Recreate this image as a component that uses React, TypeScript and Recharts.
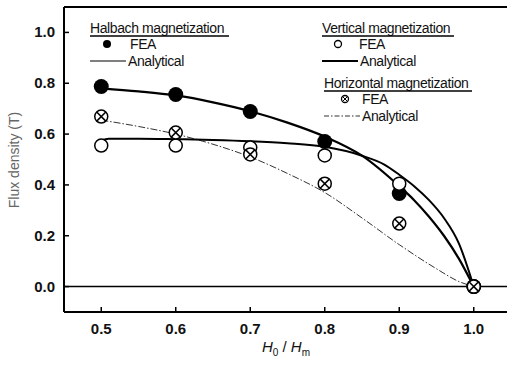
import React from "react";
import { ComposedChart, Line, Scatter, XAxis, YAxis, ReferenceLine } from "recharts";

// FEA points
const feaX = [0.5, 0.6, 0.7, 0.8, 0.9, 1.0];
const halbachFea = [0.787, 0.756, 0.689, 0.571, 0.366, 0.0];
const verticalFea = [0.555, 0.555, 0.547, 0.516, 0.405, 0.0];
const horizontalFea = [0.669, 0.606, 0.52, 0.405, 0.248, 0.0];

// analytical curves
const halbachX = [0.5, 0.55, 0.6, 0.65, 0.7, 0.75, 0.8, 0.85, 0.9, 0.92, 0.94, 0.96, 0.98, 1.0];
const halbachAn = [0.78, 0.768, 0.752, 0.725, 0.69, 0.645, 0.59, 0.515, 0.395, 0.34, 0.275, 0.2, 0.11, 0.0];
const verticalX = [0.5, 0.51, 0.55, 0.6, 0.65, 0.7, 0.75, 0.8, 0.85, 0.88, 0.9, 0.92, 0.94, 0.96, 0.98, 1.0];
const verticalAn = [0.575, 0.582, 0.582, 0.58, 0.577, 0.572, 0.564, 0.55, 0.515, 0.48, 0.44, 0.395, 0.34, 0.27, 0.17, 0.0];
const horizontalX = [0.5, 0.55, 0.6, 0.65, 0.7, 0.75, 0.8, 0.85, 0.9, 0.95, 0.98, 1.0];
const horizontalAn = [0.655, 0.63, 0.6, 0.56, 0.51, 0.445, 0.37, 0.27, 0.165, 0.07, 0.02, 0.0];

const xTicks = [0.5, 0.6, 0.7, 0.8, 0.9, 1.0];
const yTicks = [0.0, 0.2, 0.4, 0.6, 0.8, 1.0];

const pts = (xs: number[], ys: number[]) => xs.map((x, i) => ({ x, y: ys[i] }));

const FONT = "'Liberation Sans', Arial, sans-serif";

const FilledDot = (p: any) => <circle cx={p.cx} cy={p.cy} r={7.5} fill="#000" />;
const OpenDot = (p: any) => <circle cx={p.cx} cy={p.cy} r={6.5} fill="#fff" stroke="#000" strokeWidth={1.5} />;
const CrossDot = (p: any) => {
  const r = 6.5;
  const d = r * 0.7;
  return (
    <g>
      <circle cx={p.cx} cy={p.cy} r={r} fill="#fff" stroke="#000" strokeWidth={1.5} />
      <line x1={p.cx - d} y1={p.cy - d} x2={p.cx + d} y2={p.cy + d} stroke="#000" strokeWidth={1.5} />
      <line x1={p.cx - d} y1={p.cy + d} x2={p.cx + d} y2={p.cy - d} stroke="#000" strokeWidth={1.5} />
    </g>
  );
};

const XTick = (p: any) => (
  <g>
    <line x1={p.x} y1={p.y} x2={p.x} y2={p.y - 5} stroke="#000" strokeWidth={1.5} />
    <text x={p.x} y={p.y + 22} textAnchor="middle" fontFamily={FONT} fontSize={15} fontWeight="bold" fill="#111">
      {Number(p.payload.value).toFixed(1)}
    </text>
  </g>
);

const YTick = (p: any) => (
  <g>
    <line x1={p.x} y1={p.y} x2={p.x + 5} y2={p.y} stroke="#000" strokeWidth={1.5} />
    <text x={p.x - 9} y={p.y + 5} textAnchor="end" fontFamily={FONT} fontSize={15} fontWeight="bold" fill="#111">
      {Number(p.payload.value).toFixed(1)}
    </text>
  </g>
);

export default function App() {
  const txt = { fontFamily: FONT, fontSize: 14, fill: "#111", letterSpacing: -0.4 } as any;
  return (
    <div style={{ position: "absolute", left: 0, top: 0, width: 507, height: 367, overflow: "hidden", background: "#fff" }}>
      <ComposedChart width={511} height={367} margin={{ top: 7, right: 0, bottom: 0, left: 0 }}>
        <XAxis
          type="number"
          dataKey="x"
          domain={[0.45, 1.05]}
          ticks={xTicks}
          height={55}
          tickSize={0}
          tickMargin={0}
          tick={<XTick />}
          axisLine={{ stroke: "#000", strokeWidth: 2 }}
          allowDuplicatedCategory={false}
        />
        <YAxis
          type="number"
          dataKey="y"
          domain={[-0.1, 1.1]}
          ticks={yTicks}
          width={64}
          tickSize={0}
          tickMargin={0}
          tick={<YTick />}
          axisLine={{ stroke: "#000", strokeWidth: 2 }}
        />
        <ReferenceLine y={1.1} stroke="#000" strokeWidth={2} />
        <ReferenceLine y={0} stroke="#000" strokeWidth={1.5} />
        <Line data={pts(horizontalX, horizontalAn)} dataKey="y" type="monotone" stroke="#333" strokeWidth={1} strokeDasharray="7 2 1.5 2" dot={false} isAnimationActive={false} />
        <Line data={pts(verticalX, verticalAn)} dataKey="y" type="monotone" stroke="#000" strokeWidth={2} dot={false} isAnimationActive={false} />
        <Line data={pts(halbachX, halbachAn)} dataKey="y" type="monotone" stroke="#000" strokeWidth={2.2} dot={false} isAnimationActive={false} />
        <Scatter data={pts(feaX, halbachFea)} dataKey="y" shape={<FilledDot />} isAnimationActive={false} />
        <Scatter data={pts(feaX, verticalFea)} dataKey="y" shape={<OpenDot />} isAnimationActive={false} />
        <Scatter data={pts(feaX, horizontalFea)} dataKey="y" shape={<CrossDot />} isAnimationActive={false} />
      </ComposedChart>
      <svg width={507} height={367} style={{ position: "absolute", left: 0, top: 0, pointerEvents: "none" }}>
        {/* Halbach legend */}
        <text x={90} y={33} {...txt}>Halbach magnetization</text>
        <line x1={90} y1={36} x2={229} y2={36} stroke="#000" strokeWidth={1.5} />
        <circle cx={107} cy={44} r={4} fill="#000" />
        <text x={130} y={49} {...txt}>FEA</text>
        <line x1={90} y1={61} x2={126} y2={61} stroke="#000" strokeWidth={1.2} />
        <text x={128} y={66} {...txt}>Analytical</text>
        {/* Vertical legend */}
        <text x={322} y={33} {...txt}>Vertical magnetization</text>
        <line x1={322} y1={36} x2={454} y2={36} stroke="#000" strokeWidth={1.5} />
        <circle cx={338} cy={44} r={3.5} fill="#fff" stroke="#000" strokeWidth={1.3} />
        <text x={359} y={49} {...txt}>FEA</text>
        <line x1={322} y1={61} x2={358} y2={61} stroke="#000" strokeWidth={2} />
        <text x={360} y={66} {...txt}>Analytical</text>
        {/* Horizontal legend */}
        <text x={324} y={88} {...txt}>Horizontal magnetization</text>
        <line x1={324} y1={91} x2={472} y2={91} stroke="#000" strokeWidth={1.5} />
        <circle cx={345} cy={99} r={3.5} fill="#fff" stroke="#000" strokeWidth={1.3} />
        <line x1={343} y1={97} x2={347} y2={101} stroke="#000" strokeWidth={1} />
        <line x1={343} y1={101} x2={347} y2={97} stroke="#000" strokeWidth={1} />
        <text x={362} y={104} {...txt}>FEA</text>
        <line x1={324} y1={116} x2={360} y2={116} stroke="#333" strokeWidth={1} strokeDasharray="5 2 1.5 2" />
        <text x={362} y={121} {...txt}>Analytical</text>
        {/* axis labels */}
        <text x={0} y={0} transform="translate(19,160) rotate(-90)" textAnchor="middle" fontFamily={FONT} fontSize={14} fill="#666">
          Flux density (T)
        </text>
        <text x={286} y={352} textAnchor="middle" fontFamily={FONT} fontSize={15} fill="#111">
          <tspan fontStyle="italic">H</tspan>
          <tspan fontSize={10} dy={4}>0</tspan>
          <tspan dy={-4}> / </tspan>
          <tspan fontStyle="italic">H</tspan>
          <tspan fontSize={10} dy={4}>m</tspan>
        </text>
      </svg>
    </div>
  );
}
